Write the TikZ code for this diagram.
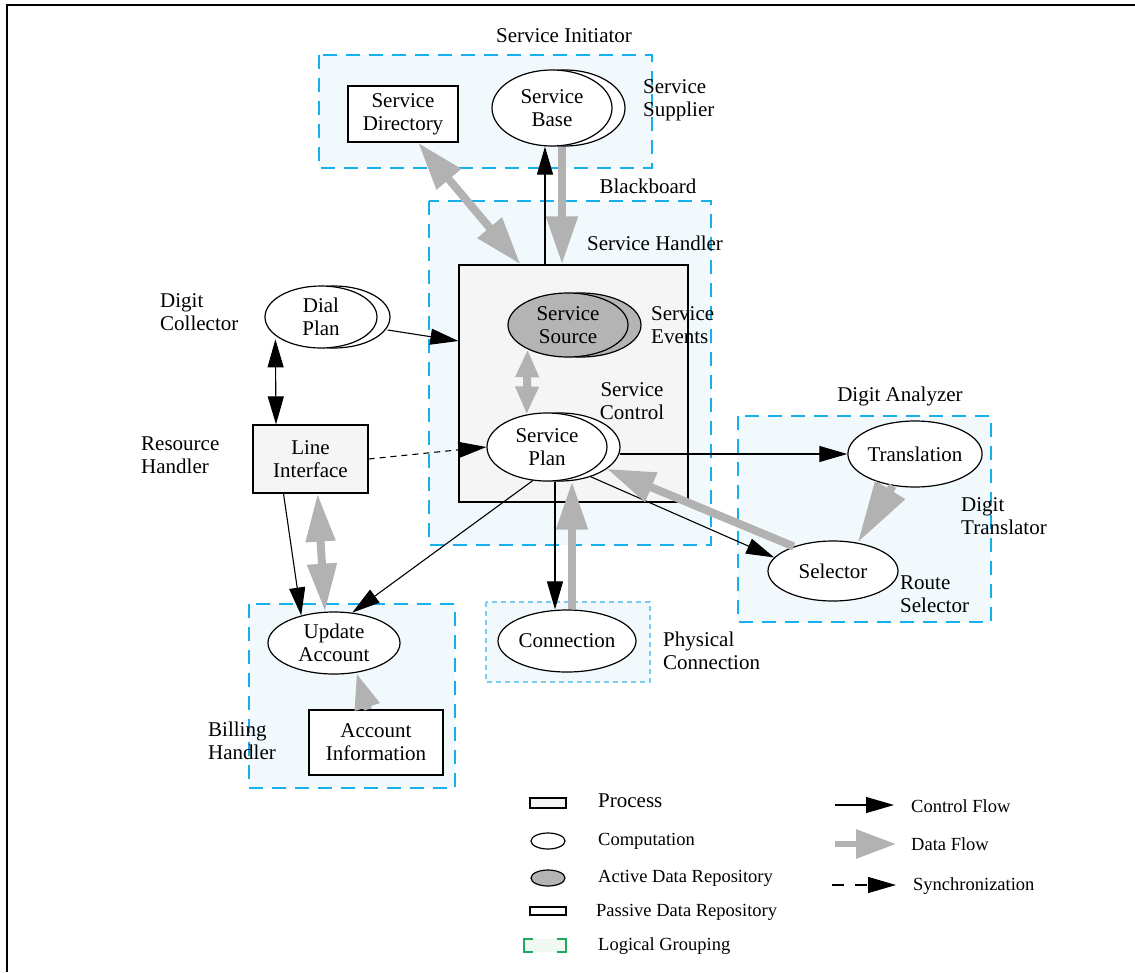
\documentclass[tikz,border=0pt]{standalone}
\usepackage{fontspec}
\setmainfont{Liberation Serif}
\usepackage{tikz}
\usetikzlibrary{shapes.geometric, arrows.meta, shadows}
\definecolor{groupline}{RGB}{22,176,235}
\definecolor{groupfill}{RGB}{242,249,253}
\definecolor{wireline}{RGB}{120,205,240}
\definecolor{procgrey}{RGB}{245,245,245}
\definecolor{activegrey}{RGB}{180,180,180}
\definecolor{dataflow}{RGB}{178,178,178}
\definecolor{legendgreen}{RGB}{30,170,90}
\definecolor{legendfill}{RGB}{240,248,243}
\tikzstyle{group} = [draw=groupline, fill=groupfill, 
line width=1.6pt, 
dash pattern=on 14pt off 9pt]
\tikzstyle{wire} = [draw=wireline, fill=groupfill, 
line width=1.2pt, 
dash pattern=on 5pt off 4pt]
\tikzstyle{process} = [rectangle, 
draw=black, fill=procgrey, 
line width=1.2pt, 
inner sep=0pt, 
align=center]
\tikzstyle{passive} = [process, fill=white]
\tikzstyle{computation} = [ellipse, 
draw=black, fill=white, 
line width=1.2pt, 
inner sep=0pt, 
align=center]
\tikzstyle{active} = [computation, fill=activegrey]
\tikzstyle{twin} = [copy shadow={shadow xshift=13pt, shadow yshift=0pt, fill=white, draw=black, line width=1.2pt}]
\tikzstyle{twinactive} = [copy shadow={shadow xshift=13pt, shadow yshift=0pt, fill=activegrey, draw=black, line width=1.2pt}]
\tikzstyle{grouptext} = [anchor=west, align=left, inner sep=0pt]
\tikzstyle{legendtext} = [anchor=west, inner sep=0pt, font=\fontsize{18.5}{21}\selectfont]
\tikzstyle{control} = [line width=1.1pt, >={Triangle[length=28pt, width=16pt]}, ->]
\tikzstyle{sync} = [control, dash pattern=on 6pt off 5pt]
\tikzstyle{data} = [line width=8pt, draw=dataflow, >={Triangle[length=48pt, width=30pt]}, ->]

\begin{document}
\begin{tikzpicture}[x=1pt, y=-1pt, font=\fontsize{21}{23}\selectfont]
    \useasboundingbox (0,0) rectangle (1135,972);
    \draw [line width=2pt] (1135,5) -- (7,5) -- (7,972);

    % logical groupings
    \draw [group] (319,55) rectangle (652,168);
    \draw [group] (429,201) rectangle (711,545);
    \draw [group] (738,416) rectangle (991,622);
    \draw [group] (249,604) rectangle (455,788);
    \draw [wire] (486,602) rectangle (650,682);

    \node (sdir) [passive, minimum width=110, minimum height=56] at (403,114) {Service\\Directory};
    \node (sbase) [computation, twin, minimum width=120, minimum height=76] at (552,108) {Service\\Base};
    \node (handler) [process, minimum width=229, minimum height=237] at (573.5,383.5) {};
    \node (ssrc) [active, twinactive, minimum width=120, minimum height=64] at (568,325) {Service\\Source};
    \node (splan) [computation, twin, minimum width=120, minimum height=68] at (547,447) {Service\\Plan};
    \node (dial) [computation, twin, minimum width=112, minimum height=62] at (321,317) {Dial\\Plan};
    \node (line) [process, minimum width=115, minimum height=68] at (310.5,459) {Line\\Interface};
    \node (trans) [computation, minimum width=134, minimum height=66] at (915,454) {Translation};
    \node (sel) [computation, minimum width=130, minimum height=60] at (833,571) {Selector};
    \node (update) [computation, minimum width=132, minimum height=62] at (334,643) {Update\\Account};
    \node (accinfo) [passive, minimum width=134, minimum height=65] at (376,742.5) {Account\\Information};
    \node (conn) [computation, minimum width=138, minimum height=62] at (567,641) {Connection};

    \node (initlbl) at (564,36) {Service Initiator};
    \node (supplbl) [grouptext] at (643,100) {Service\\Supplier};
    \node (boardlbl) at (648,186) {Blackboard};
    \node (handlbl) at (655,243) {Service Handler};
    \node (collbl) [grouptext] at (160,312) {Digit\\Collector};
    \node (evtlbl) [grouptext] at (651,325) {Service\\Events};
    \node (ctrllbl) [align=center, inner sep=0pt] at (632,401) {Service\\Control};
    \node (reslbl) [grouptext] at (141,455) {Resource\\Handler};
    \node (analbl) at (900,396) {Digit Analyzer};
    \node (translbl) [grouptext] at (961,516) {Digit\\Translator};
    \node (routelbl) [grouptext] at (900,594) {Route\\Selector};
    \node (phylbl) [grouptext] at (663,651) {Physical\\Connection};
    \node (billlbl) [grouptext] at (208,741) {Billing\\Handler};

    \draw [control] ([xshift=-7pt]sbase.south |- handler.north) -- ([xshift=-7pt]sbase.south);
    \draw [control] ([xshift=10pt, yshift=-13pt]dial.east) -- ([yshift=42.5pt]handler.west);
    \draw [control, <->] (dial.south west -| line.north west) ++(23,0) -- ([xshift=-34.5pt]line.north);
    \draw [sync] (line.east) -- (splan.west);
    \draw [control] ([xshift=-27pt]line.south) -- (update.140);
    \draw [control] (splan.247) -- (update.59);
    \draw [control] ([xshift=-12pt]conn.north |- splan.south) -- ([xshift=-12pt]conn.north);
    \draw [control] ([xshift=12pt]splan.east |- trans.west) -- (trans.west);
    \draw [control] ([xshift=13pt]splan.-44) -- (sel.167);

    \draw [data, <->] ([xshift=15pt]sdir.south) -- ([xshift=-53pt]handler.north);
    \draw [data] ([xshift=10pt]sbase.south) -- ([xshift=10pt]sbase.south |- handler.north);
    \draw [data, <->, >={Triangle[length=28pt, width=22pt]}] (ssrc.211) -- (splan.122);
    \draw [data, <->, >={Triangle[length=48pt, width=28pt]}] ([xshift=7pt]line.south) -- (update.106);
    \draw [data, >={Triangle[length=36pt, width=24pt]}] ([xshift=-8pt]accinfo.north) -- (update.-53);
    \draw [data] ([xshift=5pt]conn.north) -- ([xshift=5pt]conn.north |- splan.south);
    \draw [data] (sel.148) -- ([xshift=13pt]splan.-25);
    \draw [data, >={Triangle[length=62pt, width=33pt]}] (trans.235) -- (sel.49);

    % legend
    \node (lgproc) [process, minimum width=36, minimum height=10] at (548,803) {};
    \node (lgcomp) [computation, minimum width=34, minimum height=16] at (548,841) {};
    \node (lgactive) [active, minimum width=34, minimum height=16] at (548,878) {};
    \node (lgpassive) [passive, minimum width=36, minimum height=8] at (548,911) {};
    \fill [legendfill] (524,939) rectangle (566,952);
    \draw [legendgreen, line width=1.5pt] (533,939) -| (524,952) -- (533,952);
    \draw [legendgreen, line width=1.5pt] (557,939) -| (566,952) -- (557,952);
    \node (lgproctxt) [legendtext, font=\fontsize{21}{23}\selectfont] at (598,801) {Process};
    \node (lgcomptxt) [legendtext] at (598,841) {Computation};
    \node (lgacttxt) [legendtext] at (598,878) {Active Data Repository};
    \node (lgpastxt) [legendtext] at (596,912) {Passive Data Repository};
    \node (lggrptxt) [legendtext] at (598,946) {Logical Grouping};

    \coordinate (ctrlA) at (835,805);
    \coordinate (ctrlB) at (894,805);
    \coordinate (dataA) at (835,844);
    \coordinate (dataB) at (896,844);
    \coordinate (syncA) at (832,885);
    \coordinate (syncB) at (896,885);
    \draw [control] (ctrlA) -- (ctrlB);
    \draw [data, line width=6pt, >={Triangle[length=40pt, width=28pt]}] (dataA) -- (dataB);
    \draw [sync, dash pattern=on 12pt off 11pt] (syncA) -- (syncB);
    \node (ctrltxt) [legendtext] at (911,806) {Control Flow};
    \node (datatxt) [legendtext] at (911,844) {Data Flow};
    \node (synctxt) [legendtext] at (913,886) {Synchronization};
\end{tikzpicture}
\end{document}
